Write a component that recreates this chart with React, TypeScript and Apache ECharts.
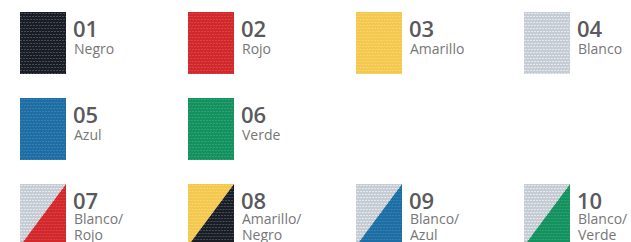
import React, { useEffect, useRef } from "react";
import * as echarts from "echarts";

const codes = ["01", "02", "03", "04", "05", "06", "07", "08", "09", "10"];
const names = [
  "Negro",
  "Rojo",
  "Amarillo",
  "Blanco",
  "Azul",
  "Verde",
  "Blanco/\nRojo",
  "Amarillo/\nNegro",
  "Blanco/\nAzul",
  "Blanco/\nVerde",
];
const gridCols = [0, 1, 2, 3, 0, 1, 0, 1, 2, 3];
const gridRows = [0, 0, 0, 0, 1, 1, 2, 2, 2, 2];
// upper-left colour, lower-right colour (same for single-colour swatches)
const colorA = ["#1b1d24", "#d3282b", "#f4c84e", "#c6ccd4", "#1c6ea4", "#13925f", "#c6ccd4", "#f4c84e", "#c6ccd4", "#c6ccd4"];
const colorB = ["#1b1d24", "#d3282b", "#f4c84e", "#c6ccd4", "#1c6ea4", "#13925f", "#d3282b", "#1b1d24", "#1c6ea4", "#13925f"];

const textureFor = (c: string) => {
  if (c === "#1b1d24") return "rgba(120,135,160,0.45)";
  if (c === "#c6ccd4") return "rgba(255,255,255,0.55)";
  if (c === "#f4c84e") return "rgba(255,240,170,0.35)";
  return "rgba(255,255,255,0.13)";
};

export default function App() {
  const ref = useRef<HTMLDivElement>(null);
  useEffect(() => {
    if (!ref.current) return;
    const chart = echarts.init(ref.current, undefined, { renderer: "svg" });
    const data = codes.map((c, i) => [gridCols[i], gridRows[i], i]);
    const W = 46;
    const H = 62;
    chart.setOption({
      animation: false,
      grid: { left: 20, top: 12, width: 504, height: 172 },
      xAxis: { type: "value", min: 0, max: 3, show: false },
      yAxis: { type: "value", min: 0, max: 2, inverse: true, show: false },
      series: [
        {
          type: "custom",
          clip: false,
          data,
          renderItem: (params: any, api: any) => {
            const i = params.dataIndex;
            const p = api.coord([api.value(0), api.value(1)]);
            const x = Math.round(p[0]);
            const y = Math.round(p[1]);
            const a = colorA[i];
            const b = colorB[i];
            const split = a !== b;
            const children: any[] = [];
            if (split) {
              children.push({
                type: "polygon",
                shape: { points: [[x, y], [x + W, y], [x, y + H]] },
                style: { fill: a },
              });
              children.push({
                type: "polygon",
                shape: { points: [[x + W, y], [x + W, y + H], [x, y + H]] },
                style: { fill: b },
              });
            } else {
              children.push({ type: "rect", shape: { x, y, width: W, height: H }, style: { fill: a } });
            }
            for (let k = 1; k < H; k += 3) {
              const yy = y + k + 0.5;
              const diag = split ? W * (1 - k / H) : W;
              const off = (k % 2) * 1.5;
              children.push({
                type: "line",
                shape: { x1: x, y1: yy, x2: x + diag, y2: yy },
                style: { stroke: textureFor(a), lineWidth: 1, lineDash: [2, 1], lineDashOffset: off },
              });
              if (split) {
                children.push({
                  type: "line",
                  shape: { x1: x + diag, y1: yy, x2: x + W, y2: yy },
                  style: { stroke: textureFor(b), lineWidth: 1, lineDash: [2, 1], lineDashOffset: off },
                });
              }
            }
            children.push({
              type: "text",
              style: {
                text: codes[i],
                x: x + W + 7,
                y: y + 16,
                fill: "#5a5a5c",
                font: "600 22px 'Open Sans'",
                lineHeight: 18,
                verticalAlign: "middle",
                align: "left",
              },
            });
            const multi = names[i].indexOf("\n") >= 0;
            children.push({
              type: "text",
              style: {
                text: names[i],
                x: x + W + 8,
                y: y + 28 + (multi ? -2 : 0),
                fill: "#767676",
                font: "14px 'Open Sans'",
                lineHeight: 16,
                verticalAlign: "top",
                align: "left",
              },
            });
            return { type: "group", children };
          },
        },
      ],
    });
    return () => chart.dispose();
  }, []);
  return (
    <div
      ref={ref}
      style={{ position: "fixed", left: 0, top: 0, width: 631, height: 242, background: "#ffffff" }}
    />
  );
}
